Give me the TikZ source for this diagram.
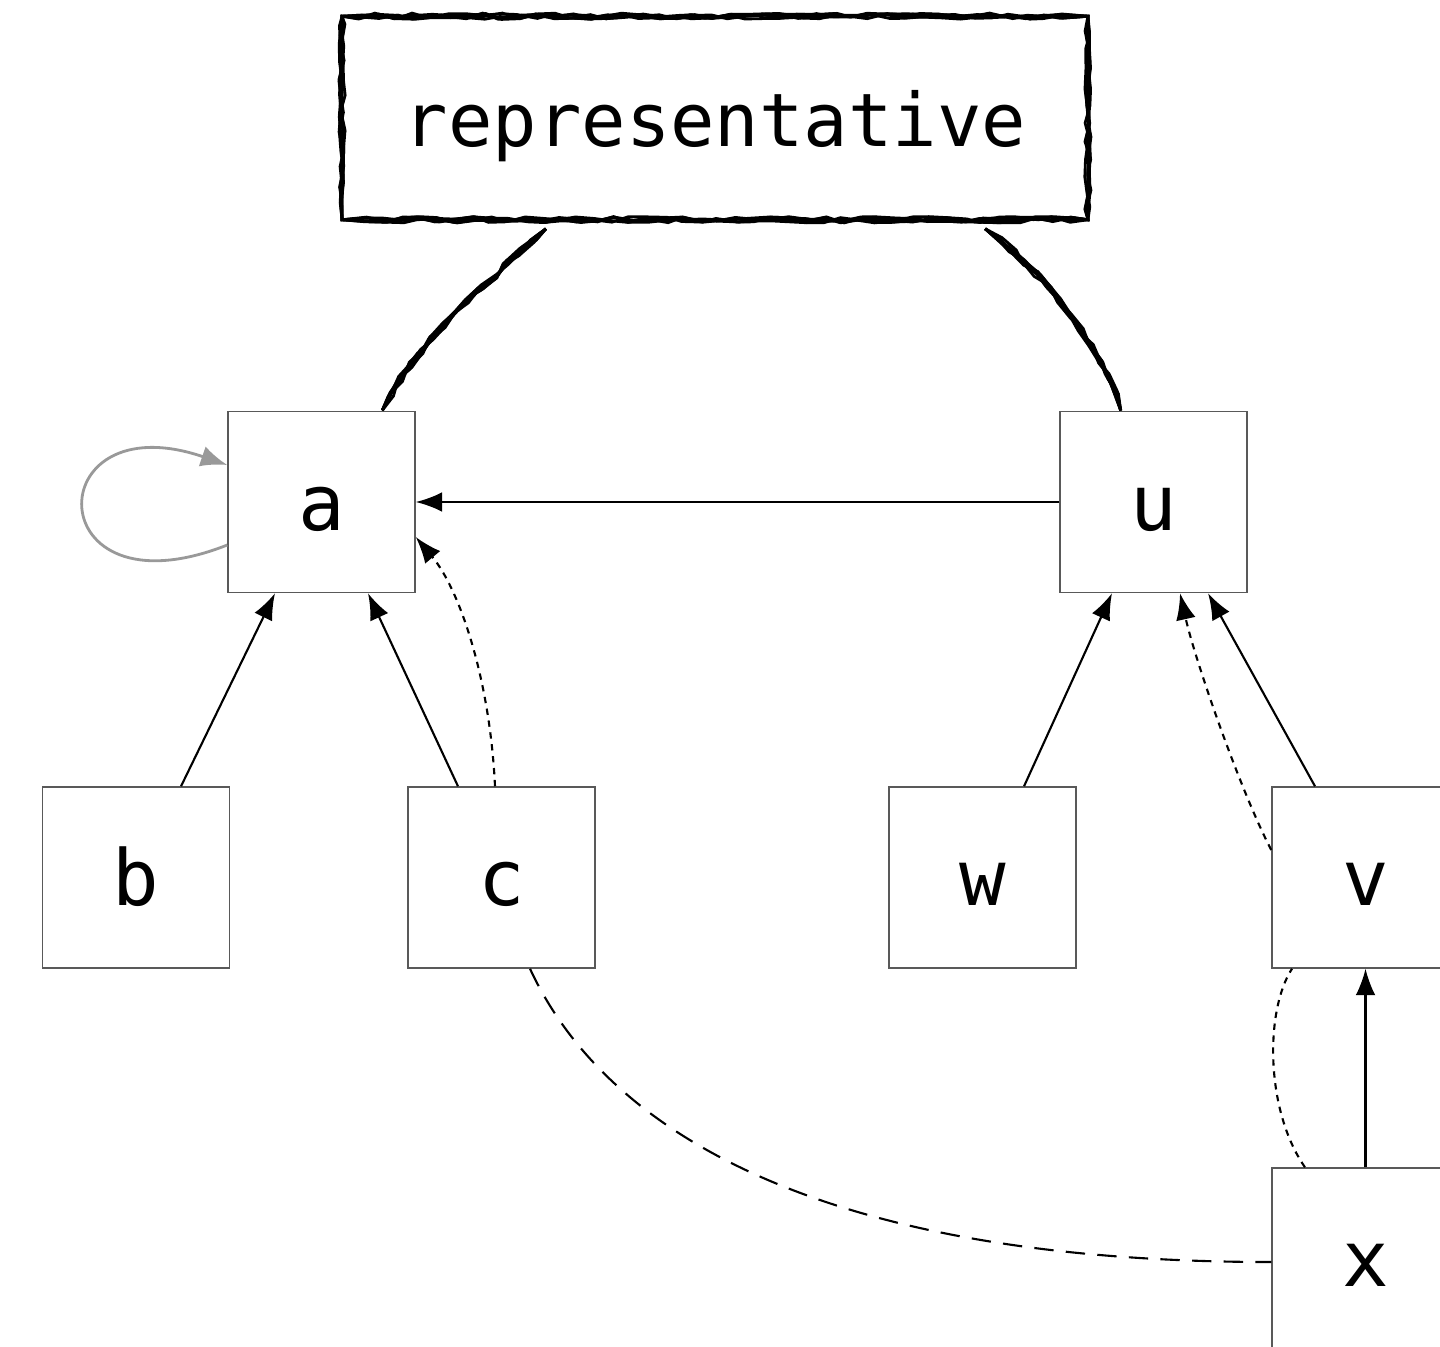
\documentclass[tikz,border=0pt]{standalone}
\usepackage{fontspec}
\usetikzlibrary{arrows.meta}
\usetikzlibrary{decorations.pathmorphing}
\newfontfamily\boxfont{DejaVu Sans Mono}
\tikzset{
    box/.style={draw=black!65, line width=0.4pt, fill=white, inner sep=0pt,
        minimum width=1.87cm, minimum height=1.81cm,
        text height=0.56cm, text depth=0pt,
        font=\boxfont\fontsize{22}{26}\selectfont},
    edge/.style={line width=0.6pt, -{Latex[length=7.5pt,width=5.6pt]}},
    dotedge/.style={edge, dash pattern=on 1.8pt off 1.6pt},
    dashedge/.style={line width=0.6pt, dash pattern=on 5.5pt off 3.5pt},
    loopedge/.style={black!40, line width=0.8pt, -{Latex[length=7.5pt,width=6pt]}},
    sketch/.style={line width=0.8pt, decorate,
        decoration={random steps, segment length=5pt, amplitude=0.9pt}}
}

\begin{document}
\begin{tikzpicture}[x=0.01cm, y=-0.01cm]
    \pgfmathsetseed{11}
    \clip (0,0) rectangle (1440,1346);
    \node (rep) [minimum width=7.44cm, minimum height=2.02cm, inner sep=0pt,
        text height=0.56cm, text depth=0pt,
        font=\boxfont\fontsize{21}{25}\selectfont] at (715,118) {representative};
    \node[box] (a) at (321.5,502) {a};
    \node[box] (u) at (1153.5,502) {u};
    \node[box] (b) at (136,877.5) {b};
    \node[box] (c) at (501.5,877.5) {c};
    \node[box] (w) at (982.5,877.5) {w};
    \node[box] (v) at (1365.5,877.5) {v};
    \node[box] (x) at (1365.5,1258.5) {x};

    % hand drawn frame and links of the representative
    \foreach \i in {1,...,6} {
        \draw[sketch] (rep.south west) rectangle (rep.north east);
        \draw[sketch] ([xshift=-1.69cm,yshift=-0.09cm]rep.south) .. controls (490,280) and (410,350) .. ([xshift=0.615cm]a.north);
        \draw[sketch] ([xshift=2.7cm,yshift=-0.09cm]rep.south) .. controls (1040,270) and (1100,340) .. ([xshift=-0.335cm]u.north);
    }

    \draw[loopedge] ([yshift=-0.43cm]a.west) .. controls +(-190,75) and +(-190,-65) .. ([yshift=0.37cm]a.west);
    \draw[edge] (u.west) -- (a.east);
    \draw[edge] ([xshift=0.45cm]b.north) -- ([xshift=-0.465cm]a.south);
    \draw[edge] ([xshift=-0.435cm]c.north) -- ([xshift=0.465cm]a.south);
    \draw[dotedge] ([xshift=-0.065cm]c.north) .. controls (490,680) and (460,590) .. ([yshift=-0.35cm]a.east);
    \draw[edge] ([xshift=0.415cm]w.north) -- ([xshift=-0.415cm]u.south);
    \draw[edge] ([xshift=-0.505cm]v.north) -- ([xshift=0.545cm]u.south);
    \draw[dotedge] ([yshift=0.275cm]v.west) .. controls (1240,790) and (1195,660) .. ([xshift=0.265cm]u.south);
    \draw[edge] (x.north) -- (v.south);
    \draw[dotedge, -] ([xshift=-0.605cm]x.north) .. controls (1265,1110) and (1265,1010) .. ([xshift=-0.735cm]v.south);
    \draw[dashedge] ([xshift=0.285cm]c.south) .. controls (600,1120) and (800,1262) .. ([yshift=-0.035cm]x.west);
\end{tikzpicture}
\end{document}
